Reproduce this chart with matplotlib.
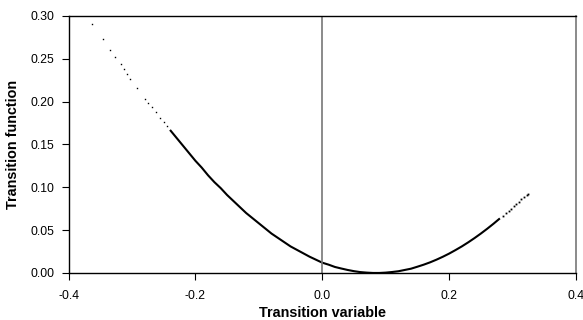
import matplotlib
matplotlib.use("Agg")
import matplotlib.pyplot as plt

plt.rcParams['font.family'] = ['Liberation Sans', 'DejaVu Sans']

# sparse points at the upper-left end of the curve
x_sparse = [-0.363, -0.346, -0.334, -0.327, -0.318, -0.313, -0.308, -0.303,
            -0.292, -0.280, -0.274, -0.269, -0.262, -0.256, -0.250, -0.245]
y_sparse = [0.291, 0.273, 0.260, 0.2525, 0.2436, 0.238, 0.232, 0.227,
            0.2156, 0.2035, 0.198, 0.1938, 0.188, 0.181, 0.176, 0.171]

# dense middle part of the curve
x_dense = [-0.24, -0.23, -0.22, -0.21, -0.20, -0.19, -0.18, -0.17, -0.16,
           -0.15, -0.14, -0.13, -0.12, -0.11, -0.10, -0.09, -0.08, -0.07,
           -0.06, -0.05, -0.04, -0.03, -0.02, -0.01, 0.00, 0.01, 0.02, 0.03,
           0.04, 0.05, 0.06, 0.07, 0.08, 0.09, 0.10, 0.11, 0.12, 0.13, 0.14,
           0.15, 0.16, 0.17, 0.18, 0.19, 0.20, 0.21, 0.22, 0.23, 0.24, 0.25,
           0.26, 0.27, 0.28]
y_dense = [0.167, 0.158, 0.149, 0.140, 0.131, 0.123, 0.114, 0.106, 0.099,
           0.091, 0.084, 0.077, 0.070, 0.064, 0.058, 0.052, 0.046, 0.041,
           0.036, 0.031, 0.027, 0.023, 0.019, 0.0155, 0.012, 0.0097, 0.007, 0.0052,
           0.0035, 0.0021, 0.001, 0.0004, 0.0, 0.0, 0.0004, 0.0011, 0.002, 0.0035, 0.005,
           0.0073, 0.0097, 0.0124, 0.0155, 0.0189, 0.0226, 0.0267, 0.031, 0.0357, 0.0407, 0.046,
           0.0516, 0.0575, 0.0637]

# sparse points at the upper-right end
x_tail = [0.285, 0.290, 0.294, 0.298, 0.302, 0.306, 0.310, 0.314, 0.318, 0.322, 0.325]
y_tail = [0.0668, 0.0700, 0.0726, 0.0752, 0.0779, 0.0806, 0.0833, 0.0861, 0.0889, 0.0913, 0.0925]

fig = plt.figure(figsize=(5.83, 3.2), dpi=100)
ax = fig.add_axes([0.1175, 0.147, 0.8705, 0.803])

ax.plot(x_dense, y_dense, color='black', lw=1.5, solid_capstyle='butt',
        solid_joinstyle='round')
ax.plot(x_sparse, y_sparse, ls='none', marker='s', ms=1.0, color='black', mew=0)
ax.plot(x_tail, y_tail, ls='none', marker='s', ms=1.3, color='black', mew=0)

ax.axvline(0, color='#777777', lw=1.2)

ax.set_xlim(-0.4, 0.4)
ax.set_ylim(0, 0.30)
ax.set_xticks([-0.4, -0.2, 0.0, 0.2, 0.4])
ax.set_xticklabels(['-0.4', '-0.2', '0.0', '0.2', '0.4'])
ax.set_yticks([0, 0.05, 0.10, 0.15, 0.20, 0.25, 0.30])
ax.set_yticklabels(['0.00', '0.05', '0.10', '0.15', '0.20', '0.25', '0.30'])

for s in ['left', 'bottom', 'top']:
    ax.spines[s].set_color('black')
    ax.spines[s].set_linewidth(1.0)
ax.spines['right'].set_color('#777777')
ax.spines['right'].set_linewidth(1.2)

ax.tick_params(direction='out', length=5, width=0.8, labelsize=8.8, colors='black')
ax.tick_params(axis='y', pad=5)
ax.tick_params(axis='x', pad=7.5)

ax.set_xlabel('Transition variable', fontsize=10.4, fontweight='bold', labelpad=3)
ax.set_ylabel('Transition function', fontsize=10.4, fontweight='bold', labelpad=8)

fig.savefig('out.png', dpi=100)
